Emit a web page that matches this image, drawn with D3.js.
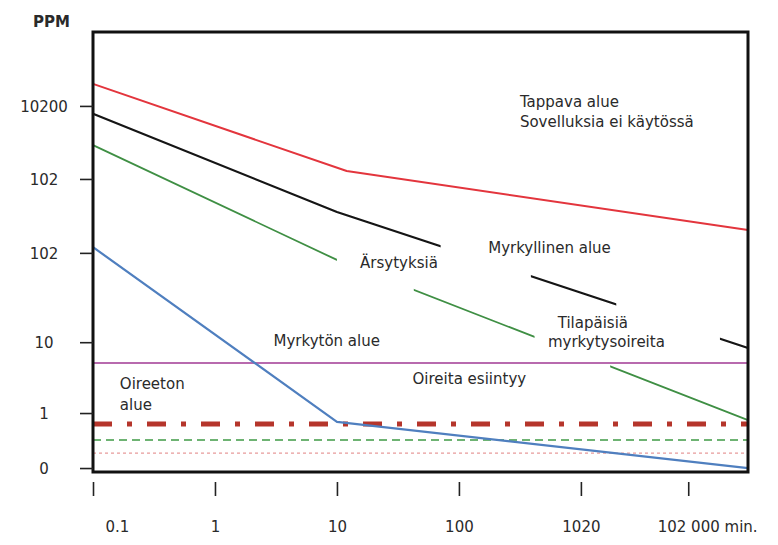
<!DOCTYPE html>
<html>
<head>
<meta charset="utf-8">
<script src="https://cdn.jsdelivr.net/npm/d3@7"></script>
<style>
  html, body { margin: 0; padding: 0; background: #fff; }
  svg text { font-family: "DejaVu Sans", sans-serif; fill: #2a2a2a; }
</style>
</head>
<body>
<svg id="chart" width="778" height="545"></svg>
<script>
// ---- data (x in axis-step units: 0.1→0, 1→1, 10→2 ...; y in chart level units) ----
const xTicks = [0, 1, 2, 3, 4, 4.88];
const xTickLabels = ["0.1", "1", "10", "100", "1020", "102 000"];
const xUnit = "min.";
const yTicks = [0.9, 13.4, 29.5, 49.8, 66.6, 83.2];
const yTickLabels = ["0", "1", "10", "102", "102", "10200"];
const yTitle = "PPM";

const redLine   = [[0, 88.2], [2.08, 68.4], [5.37, 55.0]];
const blackLine = [[0, 81.4], [2.0, 59.1], [5.37, 28.2]];
const greenLine = [[0, 74.3], [2.0, 48.2], [5.37, 11.8]];
const blueLine  = [[0, 51.1], [2.0, 11.4], [5.37, 0.9]];
const blackGaps = [[2.85, 3.59], [4.29, 5.14]];
const greenGaps = [[2.0, 2.63], [3.62, 4.24]];

const thresholdValues = [24.8, 10.9, 7.3, 4.3];

const annotationTexts = ["Tappava alue", "Sovelluksia ei käytössä", "Ärsytyksiä", "Myrkyllinen alue",
  "Tilapäisiä", "myrkytysoireita", "Myrkytön alue", "Oireita esiintyy", "Oireeton", "alue"];
const annotationX = [3.50, 3.50, 2.19, 3.24, 3.81, 3.73, 1.48, 2.62, 0.22, 0.22];
const annotationY = [82.95, 78.3, 46.4, 49.7, 32.7, 28.4, 28.6, 20.0, 18.9, 14.1];

// ---- layout ----
const svg = d3.select("#chart");
const L = 93, R = 748, T = 32, B = 472;
const x = d3.scaleLinear().domain([0, 5.37]).range([L, R]);
const y = d3.scaleLinear().domain([0, 100]).range([B, T]);
const line = d3.line().x(d => x(d[0])).y(d => y(d[1]));

// clip paths for lines with gaps
function makeClip(id, gaps) {
  const pieces = [];
  let start = x.domain()[0] - 1;
  gaps.forEach(g => { pieces.push([start, g[0]]); start = g[1]; });
  pieces.push([start, x.domain()[1] + 1]);
  const cp = svg.append("clipPath").attr("id", id);
  cp.selectAll("rect").data(pieces).join("rect")
    .attr("x", d => x(d[0])).attr("width", d => x(d[1]) - x(d[0]))
    .attr("y", 0).attr("height", 545);
}
makeClip("clipBlack", blackGaps);
makeClip("clipGreen", greenGaps);

// thresholds
const thrStyles = [
  { color: "#b86aae", width: 2, dash: null },
  { color: "#b5352b", width: 5, dash: "19,15,5,15" },
  { color: "#3f9a45", width: 1.5, dash: "8,5" },
  { color: "#e79a9a", width: 1.2, dash: "3,3" }
];
svg.append("g").selectAll("line").data(thresholdValues).join("line")
  .attr("x1", L).attr("x2", R)
  .attr("y1", d => y(d)).attr("y2", d => y(d))
  .attr("stroke", (d, i) => thrStyles[i].color)
  .attr("stroke-width", (d, i) => thrStyles[i].width)
  .attr("stroke-dasharray", (d, i) => thrStyles[i].dash);

// series lines
const series = [
  { data: redLine, color: "#e3353d", width: 2, clip: null },
  { data: blackLine, color: "#151515", width: 2.2, clip: "clipBlack" },
  { data: greenLine, color: "#3f8f44", width: 1.8, clip: "clipGreen" },
  { data: blueLine, color: "#4f7fbf", width: 2.2, clip: null }
];
svg.append("g").selectAll("path").data(series).join("path")
  .attr("d", d => line(d.data))
  .attr("fill", "none")
  .attr("stroke", d => d.color)
  .attr("stroke-width", d => d.width)
  .attr("stroke-linejoin", "round")
  .attr("clip-path", d => d.clip ? `url(#${d.clip})` : null);

// frame
svg.append("rect").attr("x", L).attr("y", T).attr("width", R - L).attr("height", B - T)
  .attr("fill", "none").attr("stroke", "#111").attr("stroke-width", 3);

// y axis
const yAxis = svg.append("g").attr("transform", `translate(${L},0)`)
  .call(d3.axisLeft(y).tickValues(yTicks).tickSize(13).tickFormat((d, i) => yTickLabels[i]));
yAxis.select(".domain").remove();
yAxis.selectAll(".tick line").attr("stroke", "#222").attr("stroke-width", 1.6);
yAxis.selectAll(".tick text").attr("x", -49).attr("dy", "0.36em")
  .attr("text-anchor", "middle").style("font-size", "15px").attr("fill", "#2a2a2a");

// x axis
const xAxis = svg.append("g").attr("transform", `translate(0,482)`)
  .call(d3.axisBottom(x).tickValues(xTicks).tickSize(14).tickFormat((d, i) => xTickLabels[i]));
xAxis.select(".domain").remove();
xAxis.selectAll(".tick line").attr("stroke", "#222").attr("stroke-width", 1.6);
xAxis.selectAll(".tick text").attr("y", 50).attr("dy", 0)
  .style("font-size", "15px").attr("fill", "#2a2a2a");
xAxis.selectAll(".tick text").filter((d, i) => i === 0).attr("dx", 24);
const lastText = xAxis.selectAll(".tick text").filter((d, i) => i === xTicks.length - 1);
lastText.attr("text-anchor", "start").each(function () {
  const w = this.getComputedTextLength();
  d3.select(this).attr("x", -w / 2);
  d3.select(this).append("tspan").text(" " + xUnit);
});

// y title
svg.append("text").attr("x", 33).attr("y", 27).text(yTitle)
  .style("font-size", "15px").style("font-weight", "bold");

// annotations
svg.append("g").selectAll("text").data(annotationTexts).join("text")
  .attr("x", (d, i) => x(annotationX[i]))
  .attr("y", (d, i) => y(annotationY[i]))
  .style("font-size", "15px")
  .text(d => d);
</script>
</body>
</html>
